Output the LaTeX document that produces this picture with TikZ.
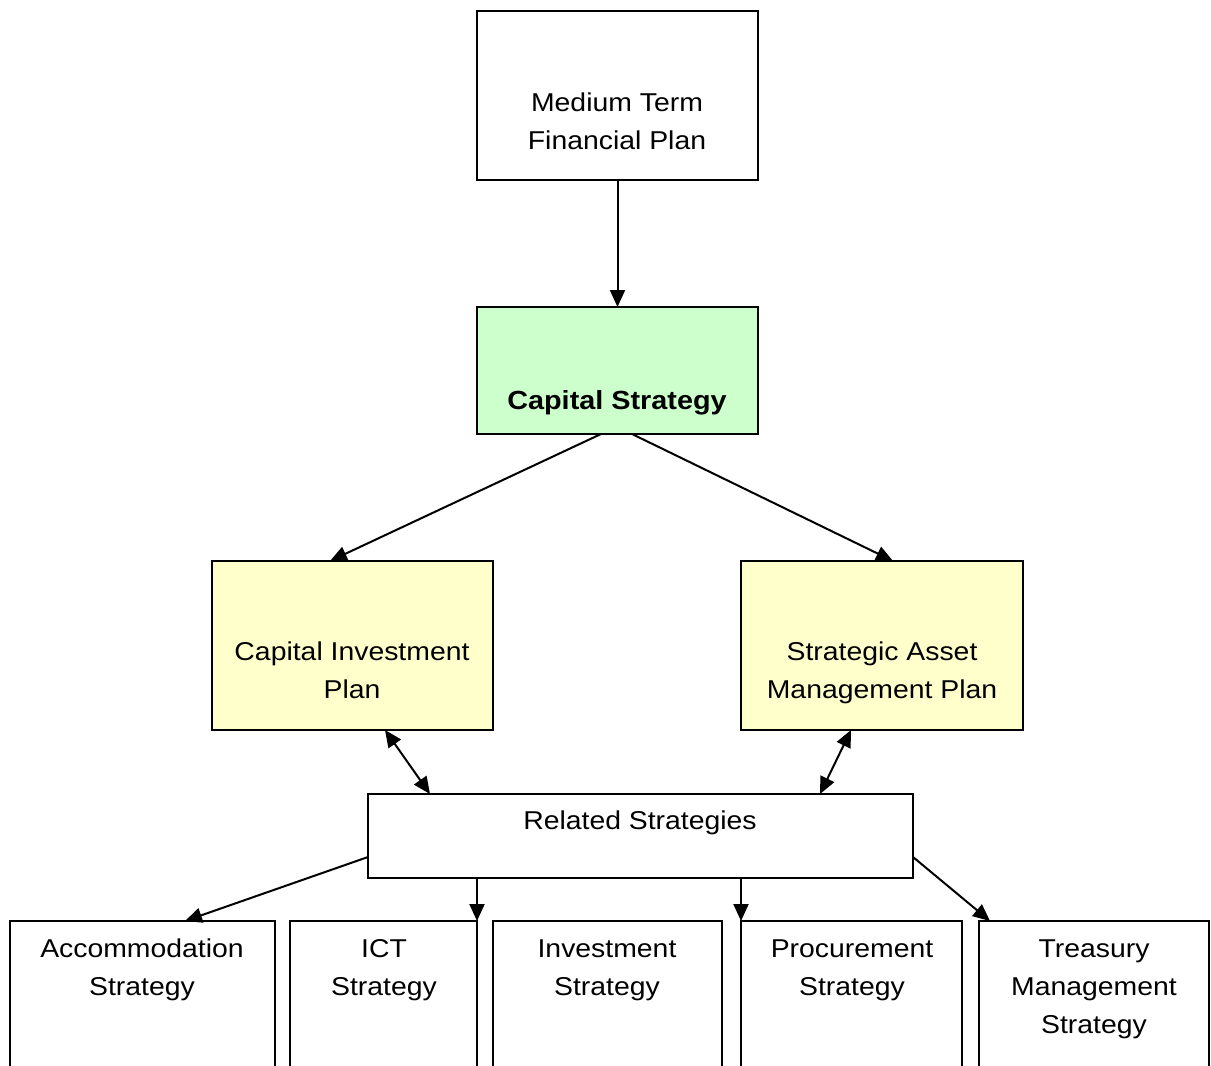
\documentclass[tikz,border=0pt]{standalone}
\usepackage{fontspec}
\setmainfont{Liberation Sans}[FakeStretch=1.1]
\usetikzlibrary{arrows.meta}
\definecolor{csgreen}{HTML}{CCFFCC}
\definecolor{planyellow}{HTML}{FFFFCC}
\begin{document}
\begin{tikzpicture}[x=1pt,y=-1pt,
  box/.style={draw=black,line width=2pt,rectangle,inner sep=0pt,outer sep=0pt,anchor=north west},
  txt/.style={align=center,inner sep=0pt,anchor=base,font=\fontsize{25.8}{38}\selectfont},
  conn/.style={line width=2pt,-{Triangle[length=17pt,width=15pt]}},
  dconn/.style={line width=2pt,{Triangle[length=17pt,width=15pt]}-{Triangle[length=17pt,width=15pt]}}
]
\useasboundingbox (0,0) rectangle (1211,1066);
\clip (0,0) rectangle (1211,1066);
\fill[white] (0,0) rectangle (1211,1066);
% boxes
\node[box,minimum width=281pt,minimum height=169pt] (mtfp) at (477,11) {};
\node[box,fill=csgreen,minimum width=281pt,minimum height=127pt] (cs) at (477,307) {};
\node[box,fill=planyellow,minimum width=281pt,minimum height=169pt] (cip) at (212,561) {};
\node[box,fill=planyellow,minimum width=282pt,minimum height=169pt] (samp) at (741,561) {};
\node[box,minimum width=545pt,minimum height=84pt] (rs) at (368,794) {};
\node[box,minimum width=265pt,minimum height=220pt] (acc) at (10,921) {};
\node[box,minimum width=187pt,minimum height=220pt] (ict) at (290,921) {};
\node[box,minimum width=229pt,minimum height=220pt] (inv) at (493,921) {};
\node[box,minimum width=221pt,minimum height=220pt] (proc) at (741,921) {};
\node[box,minimum width=230pt,minimum height=220pt] (tre) at (979,921) {};
% texts (anchored at the baseline of the last line)
\node[txt] (mtfpt) at (617,149) {Medium Term\\Financial Plan};
\node[txt,font=\fontsize{26.2}{38}\selectfont\bfseries] (cst) at (617,409) {Capital Strategy};
\node[txt] (cipt) at (352,698) {Capital Investment\\Plan};
\node[txt] (sampt) at (882,698) {Strategic Asset\\Management Plan};
\node[txt] (rst) at (640,829) {Related Strategies};
\node[txt] (acct) at (142,995) {Accommodation\\Strategy};
\node[txt] (ictt) at (384,995) {ICT\\Strategy};
\node[txt] (invt) at (607,995) {Investment\\Strategy};
\node[txt] (proct) at (852,995) {Procurement\\Strategy};
\node[txt] (tret) at (1094,1033) {Treasury\\Management\\Strategy};
% connectors
\draw[conn] (mtfp.south) -- (cs.north);
\draw[conn] ([xshift=-16.5pt]cs.south) -- ([xshift=-22.5pt]cip.north);
\draw[conn] ([xshift=14.5pt]cs.south) -- ([xshift=11pt]samp.north);
\draw[dconn] ([xshift=32.5pt]cip.south) -- ([xshift=62pt]rs.north west);
\draw[dconn] ([xshift=-31pt]samp.south) -- ([xshift=179.5pt]rs.north);
\draw[conn] ([yshift=-21pt]rs.west) -- ([xshift=42.5pt]acc.north);
\draw[conn] (rs.south -| ict.north east) -- (ict.north east);
\draw[conn] (rs.south -| proc.north west) -- (proc.north west);
\draw[conn] ([yshift=-21pt]rs.east) -- ([xshift=11pt]tre.north west);
\end{tikzpicture}
\end{document}
